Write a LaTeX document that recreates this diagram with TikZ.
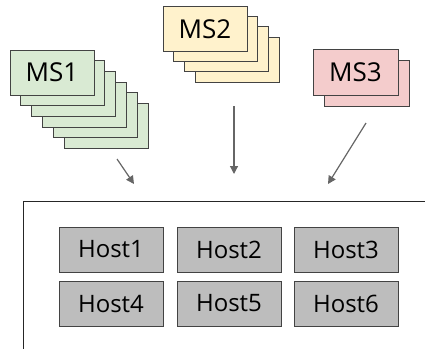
\documentclass[tikz,border=0pt]{standalone}
\usepackage{fontspec}
\setmainfont{Open Sans}
\usetikzlibrary{arrows.meta}

\definecolor{msgreen}{HTML}{D9EAD3}
\definecolor{msyellow}{HTML}{FFF2CC}
\definecolor{mspink}{HTML}{F4CCCC}
\definecolor{hostgray}{HTML}{BDBDBD}
\definecolor{edgegray}{HTML}{434343}
\definecolor{arrowgray}{HTML}{666666}

\tikzset{
  layer/.style={draw=edgegray,line width=0.8pt},
  msbox/.style={layer,minimum width=84pt,minimum height=45pt,inner sep=0pt,
    font=\fontsize{26}{30}\selectfont},
  hostbox/.style={draw=edgegray,line width=0.8pt,fill=hostgray,minimum width=104pt,
    minimum height=45pt,inner sep=0pt,font=\fontsize{24}{28}\selectfont},
  feed/.style={draw=arrowgray,line width=1.2pt,-{Triangle[length=8pt,width=8pt]}}
}

\begin{document}
\begin{tikzpicture}[x=1pt,y=-1pt]
        \useasboundingbox (0,0) rectangle (425,349);

        % MS1 stack
        \foreach \i in {5,4,...,1}
          \draw[layer,fill=msgreen] (10+10.8*\i,50+10.7*\i) rectangle ++(84,45);
        \node[msbox,fill=msgreen] (ms1) at (52,72.5) {MS1};

        % MS2 stack
        \foreach \i in {3,2,1}
          \draw[layer,fill=msyellow] (163+10.8*\i,6+10.4*\i) rectangle ++(84,45);
        \node[msbox,fill=msyellow] (ms2) at (205,29) {MS2};

        % MS3 stack
        \draw[layer,fill=mspink] (324,60) rectangle ++(85,46);
        \node[msbox,fill=mspink,minimum width=85pt,minimum height=46pt] (ms3) at (355.5,72) {MS3};

        % container (open to the right and bottom)
        \draw[line width=1pt,black!85] (425,201) -- (23,201) -- (23,349);

        % hosts
        \node[hostbox] (h1) at (111,249.5) {Host1};
        \node[hostbox] (h2) at (229,249.5) {Host2};
        \node[hostbox] (h3) at (346,249.5) {Host3};
        \node[hostbox] (h4) at (111,303.5) {Host4};
        \node[hostbox] (h5) at (229,303.5) {Host5};
        \node[hostbox] (h6) at (346,303.5) {Host6};

        % arrows into the container
        \coordinate (in1a) at (117,159);
        \coordinate (in1b) at (134,184);
        \coordinate (in2a) at (234,106);
        \coordinate (in2b) at (234,174);
        \coordinate (in3a) at (366,123);
        \coordinate (in3b) at (328,184);
        \draw[feed] (in1a) -- (in1b);
        \draw[feed] (in2a) -- (in2b);
        \draw[feed] (in3a) -- (in3b);
    \end{tikzpicture}
\end{document}
